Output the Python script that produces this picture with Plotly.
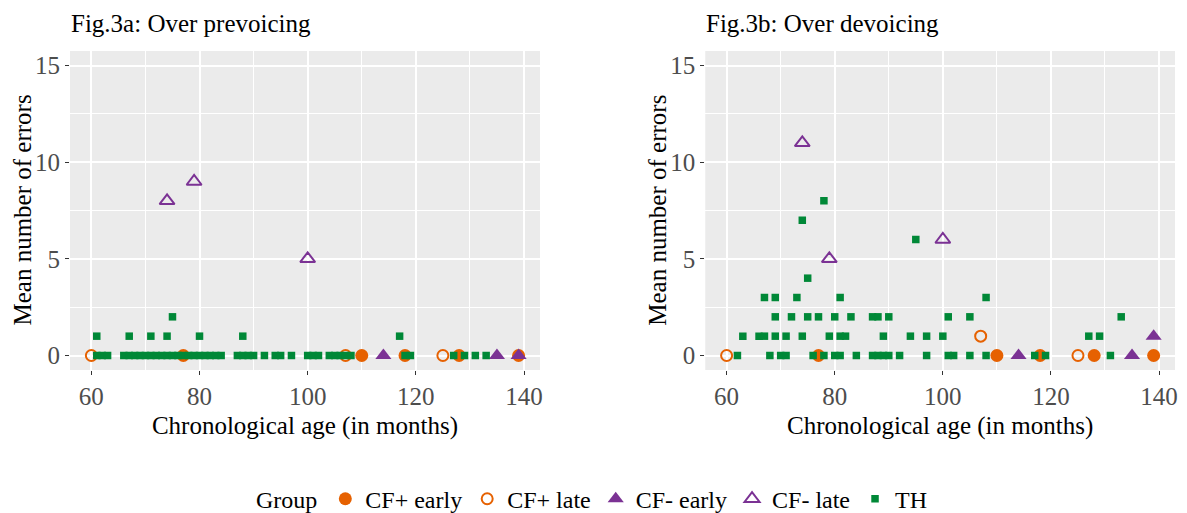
import plotly.graph_objects as go

# ---------------- data ----------------
# CF+ early
cfp_early_age = [77, 110, 118, 128, 139]
cfp_early_prev = [0, 0, 0, 0, 0]
cfp_early_dev = [0, 0, 0, 0, 0]
# CF+ late
cfp_late_age = [60, 107, 125]
cfp_late_prev = [0, 0, 0]
cfp_late_dev = [0, 1, 0]
# CF- early
cfm_early_age = [114, 135, 139]
cfm_early_prev = [0, 0, 0]
cfm_early_dev = [0, 0, 1]
# CF- late
cfm_late_age = [74, 79, 100]
cfm_late_prev = [8, 9, 5]
cfm_late_dev = [11, 5, 6]

# TH - over prevoicing (Fig.3a)
th_prev_age = [61, 62, 63, 66, 67, 68, 69, 70, 71, 72, 73, 74, 75, 76, 77, 78, 79, 80, 81, 82,
               83, 84, 87, 88, 89, 90, 92, 94, 95, 97, 100, 101, 102, 104, 105, 106, 107, 108,
               118, 119, 127, 129, 131, 133,
               61, 67, 71, 74, 80, 88, 117,
               75]
th_prev_err = [0, 0, 0, 0, 0, 0, 0, 0, 0, 0, 0, 0, 0, 0, 0, 0, 0, 0, 0, 0,
               0, 0, 0, 0, 0, 0, 0, 0, 0, 0, 0, 0, 0, 0, 0, 0, 0, 0,
               0, 0, 0, 0, 0, 0,
               1, 1, 1, 1, 1, 1, 1,
               2]

# TH - over devoicing (Fig.3b)
th_dev_age = [62, 68, 70, 71, 76, 78, 80, 81, 84, 87, 88, 89, 90, 92, 97, 101, 102, 105, 108,
              117, 119, 131,
              63, 66, 67, 69, 71, 74, 79, 81, 82, 89, 94, 97, 100, 127, 129,
              69, 72, 75, 77, 80, 83, 87, 88, 90, 101, 105, 133,
              67, 69, 73, 81, 108,
              75, 95, 74, 78]
th_dev_err = [0, 0, 0, 0, 0, 0, 0, 0, 0, 0, 0, 0, 0, 0, 0, 0, 0, 0, 0,
              0, 0, 0,
              1, 1, 1, 1, 1, 1, 1, 1, 1, 1, 1, 1, 1, 1, 1,
              2, 2, 2, 2, 2, 2, 2, 2, 2, 2, 2, 2,
              3, 3, 3, 3, 3,
              4, 6, 7, 8]

x_ticks = [60, 80, 100, 120, 140]
y_ticks = [0, 5, 10, 15]
panel_titles = ["Fig.3a: Over prevoicing", "Fig.3b: Over devoicing"]
x_title = "Chronological age (in months)"
y_title = "Mean number of errors"
legend_title = "Group"

# ---------------- styling ----------------
ORANGE = "#E66101"
PURPLE = "#7B3294"
GREEN = "#008837"
FONT = "Liberation Serif"

groups = [
    dict(name="CF+ early", age=cfp_early_age, prev=cfp_early_prev, dev=cfp_early_dev,
         symbol="circle", color=ORANGE, size=13, lw=0),
    dict(name="CF+ late", age=cfp_late_age, prev=cfp_late_prev, dev=cfp_late_dev,
         symbol="circle-open", color=ORANGE, size=11, lw=2),
    dict(name="CF- early", age=cfm_early_age, prev=cfm_early_prev, dev=cfm_early_dev,
         symbol="triangle-up", color=PURPLE, size=14, lw=0),
    dict(name="CF- late", age=cfm_late_age, prev=cfm_late_prev, dev=cfm_late_dev,
         symbol="triangle-up-open", color=PURPLE, size=13, lw=2),
    dict(name="TH", age=None, prev=None, dev=None,
         symbol="square", color=GREEN, size=7.5, lw=0),
]

fig = go.Figure()
for i, g in enumerate(groups):
    if g["name"] == "TH":
        panels = [(th_prev_age, th_prev_err), (th_dev_age, th_dev_err)]
    else:
        panels = [(g["age"], g["prev"]), (g["age"], g["dev"])]
    for p, (xs, ys) in enumerate(panels):
        fig.add_trace(go.Scatter(
            x=xs, y=ys, mode="markers", name=g["name"],
            legendgroup=g["name"], showlegend=(p == 0),
            xaxis="x" if p == 0 else "x2", yaxis="y" if p == 0 else "y2",
            marker=dict(symbol=g["symbol"], color=g["color"], size=g["size"],
                        line=dict(width=g["lw"], color=g["color"])),
            hoverinfo="skip",
        ))

def xax(domain, anchor):
    return dict(domain=domain, anchor=anchor, range=[56.05, 142.95],
                tickvals=x_ticks, showgrid=True, gridcolor="white", gridwidth=1.6,
                minor=dict(tickvals=[70, 90, 110, 130], showgrid=True,
                           gridcolor="white", gridwidth=0.8, ticks=""),
                ticks="outside", ticklen=4, tickwidth=1.2, tickcolor="#333333",
                tickfont=dict(family=FONT, size=25, color="#4D4D4D"),
                title=dict(text=x_title, font=dict(family=FONT, size=25, color="black"),
                           standoff=7),
                zeroline=False, showline=False, automargin=False)

def yax(anchor):
    return dict(domain=[0, 1], anchor=anchor, range=[-0.75, 15.75],
                tickvals=y_ticks, showgrid=True, gridcolor="white", gridwidth=1.6,
                minor=dict(tickvals=[2.5, 7.5, 12.5], showgrid=True,
                           gridcolor="white", gridwidth=0.8, ticks=""),
                ticks="outside", ticklen=4, tickwidth=1.2, tickcolor="#333333",
                tickfont=dict(family=FONT, size=25, color="#4D4D4D"),
                zeroline=False, showline=False, automargin=False)

fig.update_layout(
    width=1187, height=513,
    margin=dict(l=70, r=12, t=51, b=143),
    paper_bgcolor="white", plot_bgcolor="#EBEBEB",
    xaxis=xax([0, 0.4253], "y"),
    yaxis=yax("x"),
    xaxis2=xax([0.5749, 1], "y2"),
    yaxis2=yax("x2"),
    showlegend=True,
    legend=dict(orientation="h", xref="container", yref="container",
                x=0.5, xanchor="center", y=0.027, yanchor="middle",
                title=dict(text=legend_title, font=dict(family=FONT, size=24, color="black"),
                           side="left"),
                font=dict(family=FONT, size=24, color="black"),
                bgcolor="rgba(0,0,0,0)"),
)

for p, t in enumerate(panel_titles):
    xr = "x domain" if p == 0 else "x2 domain"
    yr = "y domain" if p == 0 else "y2 domain"
    fig.add_annotation(text=t, xref=xr, yref="paper", x=0, y=1.0,
                       xanchor="left", yanchor="bottom",
                       xshift=-1, yshift=12, showarrow=False,
                       font=dict(family=FONT, size=25, color="black"))
    # y-axis title
    fig.add_annotation(text=y_title, xref=xr, yref=yr, x=0, y=0.5,
                       xanchor="center", yanchor="middle", textangle=-90,
                       xshift=-48, showarrow=False,
                       font=dict(family=FONT, size=25, color="black"))

fig.write_html("out.html", config={"displayModeBar": False},
               post_script="document.body.style.margin='0';document.body.style.overflow='hidden';")
